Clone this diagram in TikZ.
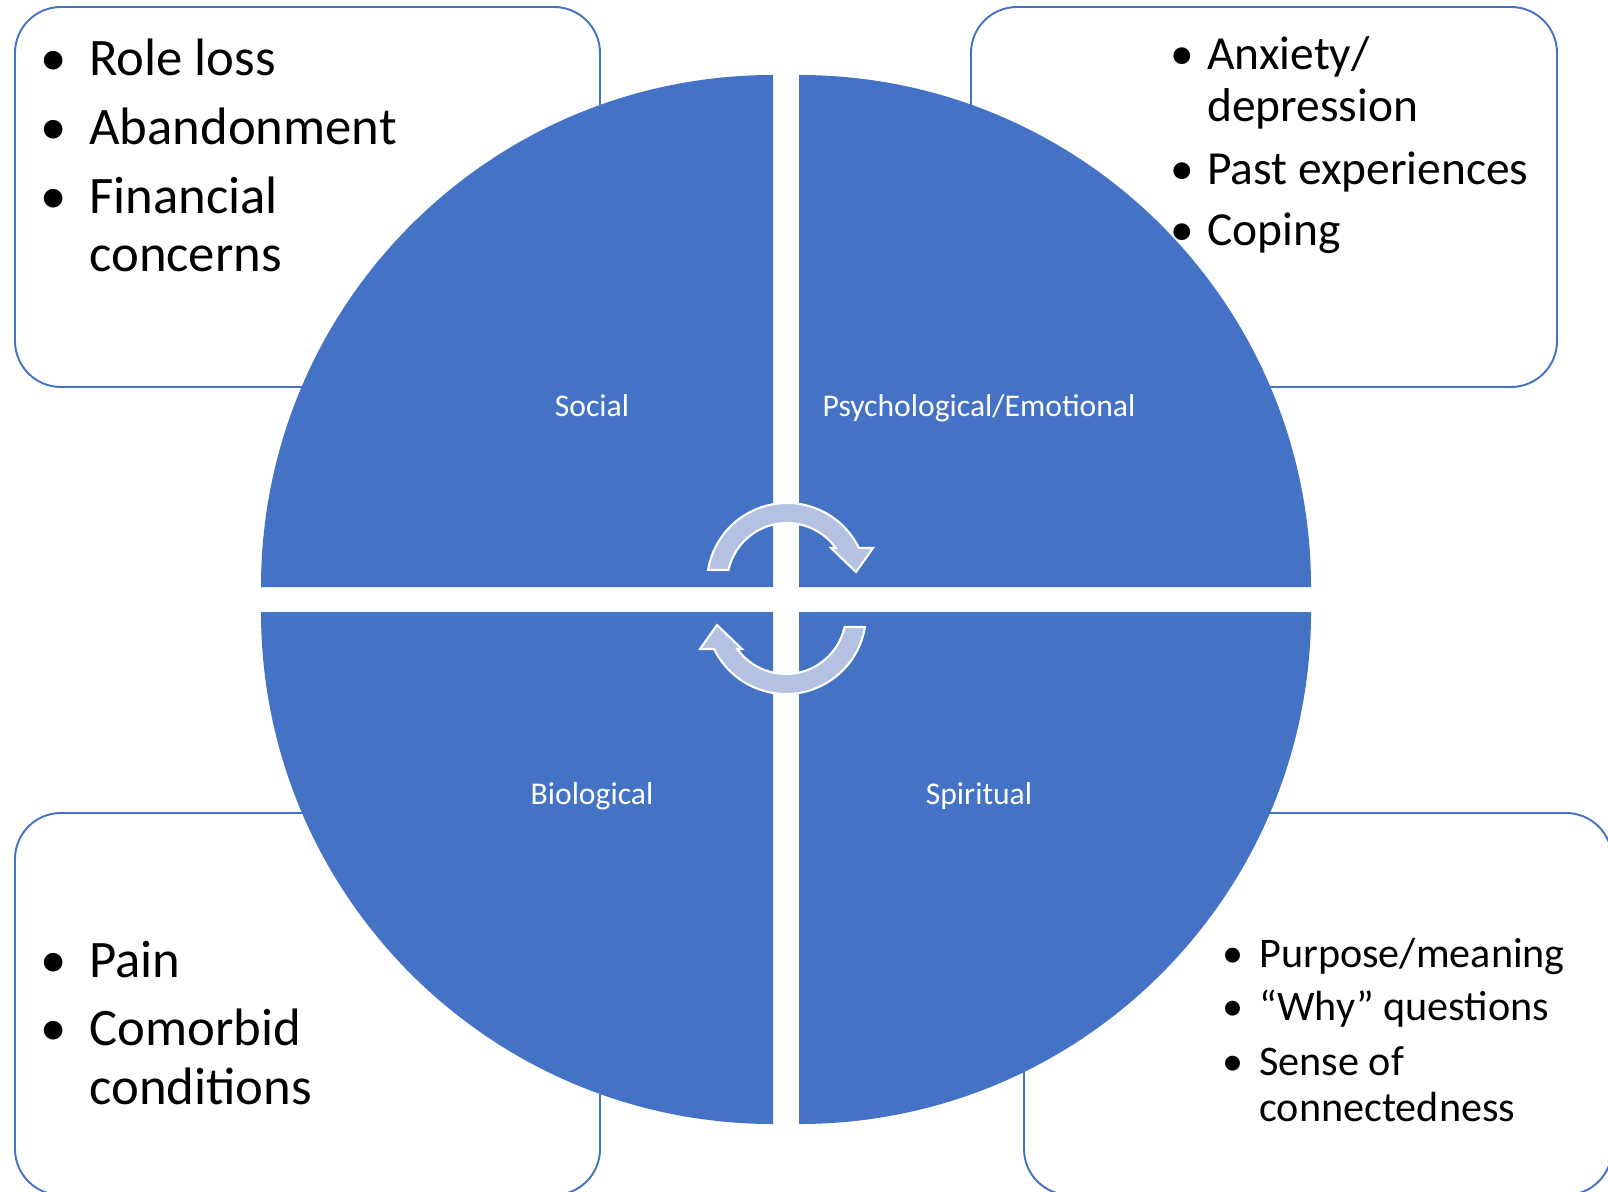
\documentclass[tikz,border=0pt]{standalone}
\usepackage{fontspec}
\setmainfont{Carlito}
\definecolor{facetblue}{RGB}{68,114,196}
\definecolor{cyclefill}{RGB}{180,193,226}
\newcommand{\bigitems}{\fontsize{30}{33.3}\selectfont}
\newcommand{\miditems}{\fontsize{27}{29.2}\selectfont}
\newcommand{\smallitems}{\fontsize{24}{26.2}\selectfont}
\newcommand{\bul}{\makebox[0pt]{\textbullet}}
% one turning arrow, centred on the origin
\newcommand{\cyclearrowpath}{(170.6:80) arc[start angle=170.6, end angle=25.9, radius=80]
  -- (86,35) -- (69,11) -- (44,35)
  -- (35.7:60) arc[start angle=35.7, end angle=167.5, radius=60] -- cycle}
\tikzset{
  quarter/.style={fill=facetblue},
  listbox/.style={draw=facetblue, line width=1.1pt, fill=white, rounded corners=0.92cm},
  facet/.style={anchor=base, text=white, font=\fontsize{18}{21.6}\selectfont},
  itemlist/.style={anchor=base west, inner sep=0pt, align=left},
  cyclearrow/.style={fill=cyclefill, draw=white, line width=1.2pt}
}
\begin{document}
\begin{tikzpicture}[x=0.02cm, y=0.02cm]
 \useasboundingbox (0,0) rectangle (1608,1191);
 % boxes behind the circle
 \draw[listbox] (15,804) rectangle (600,1184);
 \draw[listbox] (971,804) rectangle (1557,1184);
 \draw[listbox] (15,-4) rectangle (600,378);
 \draw[listbox] (1024,-4) rectangle (1612,378);
 %
 % the four quarters
 \fill[quarter] (773,604) -- (261,604) arc[start angle=180, end angle=90, radius=512] -- cycle;
 \fill[quarter] (799,604) -- (799,1116) arc[start angle=90, end angle=0, radius=512] -- cycle;
 \fill[quarter] (773,579) -- (773,67) arc[start angle=270, end angle=180, radius=512] -- cycle;
 \fill[quarter] (799,579) -- (1311,579) arc[start angle=0, end angle=-90, radius=512] -- cycle;
 %
 \node[facet] (social) at (592,774) {Social};
 \node[facet] (psych) at (979,774) {Psychological/Emotional};
 \node[facet] (bio) at (592,387) {Biological};
 \node[facet] (spirit) at (979,387) {Spiritual};
 %
 % arrows in the middle
 \begin{scope}[shift={(787,608)}]
  \draw[cyclearrow] \cyclearrowpath;
 \end{scope}
 \begin{scope}[shift={(786,577)}, rotate=180]
  \draw[cyclearrow] \cyclearrowpath;
 \end{scope}
 %
 % lists
 \node[itemlist, font=\bigitems] (social-list) at (53,1115) {%
  \begin{tabular}[t]{@{}p{20.5pt}@{}l@{}}
   \bul & Role loss\\[5.8pt]
   \bul & Abandonment\\[5.8pt]
   \bul & Financial\\
        & concerns
  \end{tabular}};
 \node[itemlist, font=\miditems] (psych-list) at (1182,1121) {%
  \begin{tabular}[t]{@{}p{14.2pt}@{}l@{}}
   \bul & Anxiety/\\
        & depression\\[6.6pt]
   \bul & Past experiences\\[5.8pt]
   \bul & Coping
  \end{tabular}};
 \node[itemlist, font=\bigitems] (bio-list) at (53,214) {%
  \begin{tabular}[t]{@{}p{20.5pt}@{}l@{}}
   \bul & Pain\\[5.8pt]
   \bul & Comorbid\\
        & conditions
  \end{tabular}};
 \node[itemlist, font=\smallitems] (spirit-list) at (1233,224) {%
  \begin{tabular}[t]{@{}p{14.8pt}@{}l@{}}
   \bul & Purpose/meaning\\[4.3pt]
   \bul & “Why” questions\\[5.1pt]
   \bul & Sense of\\
        & connectedness
  \end{tabular}};
\end{tikzpicture}
\end{document}
